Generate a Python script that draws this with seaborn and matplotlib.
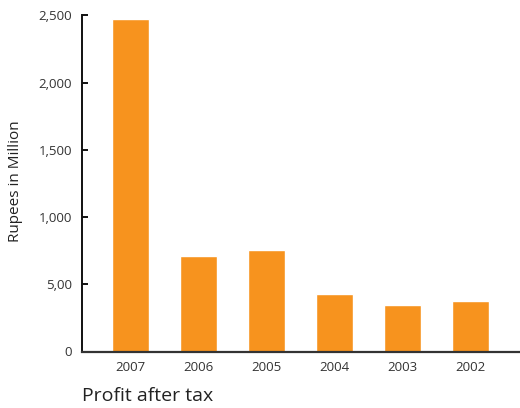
import matplotlib
matplotlib.use("Agg")
import matplotlib.pyplot as plt
import seaborn as sns
import pandas as pd

years = ["2007", "2006", "2005", "2004", "2003", "2002"]
profit = [2475, 710, 755, 428, 346, 376]
ytick_values = [0, 500, 1000, 1500, 2000, 2500]
ytick_labels = ["0", "5,00", "1,000", "1,500", "2,000", "2,500"]

sns.set_theme(style="white")
plt.rcParams["font.family"] = ["Open Sans", "DejaVu Sans"]

df = pd.DataFrame({"year": years, "profit": profit})

fig = plt.figure(figsize=(5.2, 4.08), dpi=100)
ax = fig.add_axes([82 / 520, 1 - 351.5 / 408, (520 - 82) / 520, (351.5 - 15.3) / 408])

sns.barplot(data=df, x="year", y="profit", color="#F7931E", saturation=1,
            width=0.55, ax=ax)

ax.set_ylim(0, 2500)
ax.set_xlim(-0.71, 5.73)
ax.set_yticks(ytick_values)
ax.set_yticklabels(ytick_labels)
ax.set_xlabel("")
ax.set_ylabel("Rupees in Million", fontsize=11, color="#222222")
ax.yaxis.set_label_coords(-0.135, 0.506)

for s in ["top", "right"]:
    ax.spines[s].set_visible(False)
ax.spines["left"].set_color("#111111")
ax.spines["left"].set_linewidth(1.4)
ax.spines["bottom"].set_color("#333333")
ax.spines["bottom"].set_linewidth(1.6)

ax.tick_params(axis="y", which="both", left=True, direction="in", length=4.5,
               width=1.4, color="#111111", labelsize=9.5, labelcolor="#333333",
               pad=7)
ax.tick_params(axis="x", bottom=False, length=0, labelsize=9.5,
               labelcolor="#333333", pad=7)

fig.text(82 / 520, 1 - 396 / 408, "Profit after tax", fontsize=14,
         color="#222222", ha="left", va="center")

fig.savefig("out.png", dpi=100)
